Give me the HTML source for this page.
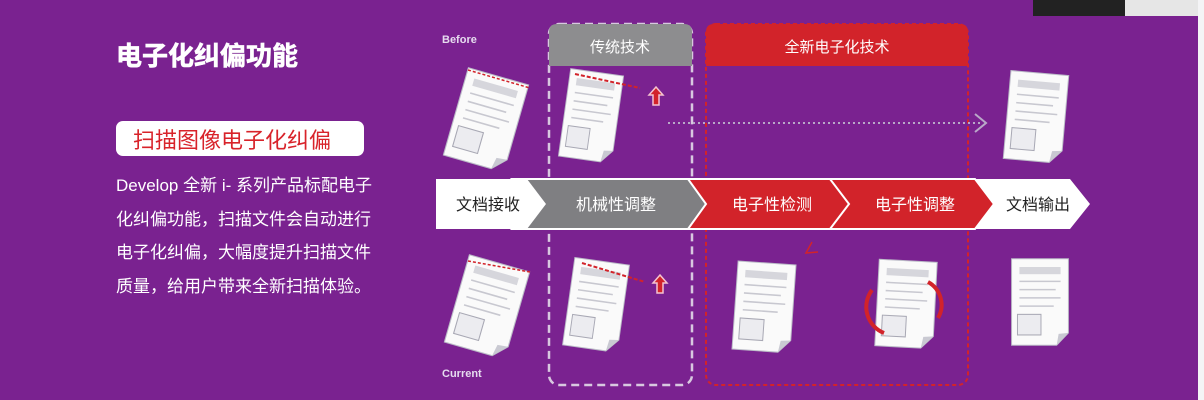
<!DOCTYPE html>
<html><head><meta charset="utf-8"><style>
html,body{margin:0;padding:0;width:1204px;height:400px;overflow:hidden;background:#7a2290}
text{font-family:"Liberation Sans","Noto Sans CJK SC",sans-serif}
</style></head><body>
<svg width="1204" height="400" viewBox="0 0 1204 400" xmlns="http://www.w3.org/2000/svg">
<defs>
<g id="doc">
<path d="M-29,-42 H29 V30 L17,42 H-29 Z" fill="#fafafa" stroke="#bcbcc8" stroke-width="1"/>
<path d="M29,30 L17,42 L19,31 Z" fill="#c9c9d2"/>
<rect x="-21" y="-34" width="42" height="7" fill="#d6d6dc"/>
<line x1="-21" y1="-20" x2="21" y2="-20" stroke="#c8c8d0" stroke-width="1.5"/>
<line x1="-21" y1="-12" x2="16" y2="-12" stroke="#c8c8d0" stroke-width="1.5"/>
<line x1="-21" y1="-4" x2="21" y2="-4" stroke="#c8c8d0" stroke-width="1.5"/>
<line x1="-21" y1="4" x2="14" y2="4" stroke="#c8c8d0" stroke-width="1.5"/>
<rect x="-23" y="12" width="24" height="20" fill="#ececf0" stroke="#a8a8b4" stroke-width="1"/>
</g>
<g id="up"><path d="M0,-10 L7,-2 H3 V8 H-3 V-2 H-7 Z" fill="#d2232a" stroke="#f4c4d0" stroke-width="1.5"/></g>
</defs>
<rect x="0" y="0" width="1204" height="400" fill="#7a2290"/>
<rect x="1198" y="0" width="6" height="400" fill="#f4f4f6"/>
<rect x="1033" y="0" width="92" height="16" fill="#222"/>
<rect x="1125" y="0" width="73" height="16" fill="#e6e6e6"/>

<text x="116" y="65" font-size="26" font-weight="bold" fill="#fff" stroke="#fff" stroke-width="0.6">电子化纠偏功能</text>
<rect x="116" y="121" width="248" height="35" rx="7" fill="#fff"/>
<text x="133" y="148" font-size="22" fill="#d8232a">扫描图像电子化纠偏</text>
<g font-size="17" fill="#fff">
<text x="116" y="191">Develop 全新 i- 系列产品标配电子</text>
<text x="116" y="225">化纠偏功能，扫描文件会自动进行</text>
<text x="116" y="258">电子化纠偏，大幅度提升扫描文件</text>
<text x="116" y="292">质量，给用户带来全新扫描体验。</text>
</g>
<text x="442" y="43" font-size="11" font-weight="bold" fill="#e6dcef">Before</text>
<text x="442" y="377" font-size="11" font-weight="bold" fill="#e6dcef">Current</text>

<rect x="549" y="24" width="143" height="361" rx="10" fill="none" stroke="#d8c8e0" stroke-width="2.5" stroke-dasharray="8,5"/>
<path d="M549,66 V32 Q549,24 557,24 H684 Q692,24 692,32 V66 Z" fill="#8d8d8f"/>
<text x="620" y="52" font-size="15" fill="#fff" text-anchor="middle">传统技术</text>
<rect x="706" y="24" width="262" height="361" rx="10" fill="none" stroke="#d2232a" stroke-width="2" stroke-dasharray="4,3"/>
<path d="M706,66 V32 Q706,24 714,24 H960 Q968,24 968,32 V66 Z" fill="#d2232a"/>
<text x="837" y="52" font-size="15" fill="#fff" text-anchor="middle">全新电子化技术</text>

<line x1="668" y1="123" x2="982" y2="123" stroke="#b9a8c8" stroke-width="2" stroke-dasharray="2,3"/>
<path d="M975,114 L986,123 L975,132" fill="none" stroke="#b9a8c8" stroke-width="2"/>

<path d="M970,179 H1070 L1090,204 L1070,229 H970 L988,204 Z" fill="#fff"/>
<path d="M828,179 H975 L994,204 L975,229 H828 L846,204 Z" fill="#d2232a" stroke="#fff" stroke-width="2"/>
<path d="M686,179 H830 L849,204 L830,229 H686 L704,204 Z" fill="#d2232a" stroke="#fff" stroke-width="2"/>
<path d="M512,179 H688 L706,204 L688,229 H512 L530,204 Z" fill="#7f7f82" stroke="#fff" stroke-width="2"/>
<path d="M436,179 H527 L546,204 L527,229 H436 Z" fill="#fff"/>
<g font-size="16" text-anchor="middle">
<text x="488" y="210" fill="#222">文档接收</text>
<text x="616" y="210" fill="#fff">机械性调整</text>
<text x="772" y="210" fill="#fff">电子性检测</text>
<text x="915" y="210" fill="#fff">电子性调整</text>
<text x="1038" y="210" fill="#222">文档输出</text>
</g>

<use href="#doc" transform="translate(486,120) rotate(16) scale(1.08)"/>
<line x1="468" y1="70" x2="530" y2="88" stroke="#d2232a" stroke-width="1.5" stroke-dasharray="3,2"/>
<use href="#doc" transform="translate(591,116) rotate(8) scale(0.92,1.05)"/>
<line x1="575" y1="74" x2="640" y2="88" stroke="#d2232a" stroke-width="2" stroke-dasharray="4,2"/>
<use href="#up" transform="translate(656,97)"/>
<use href="#doc" transform="translate(1036,117) rotate(5) scale(1,1.05)"/>

<use href="#doc" transform="translate(487,307) rotate(16) scale(1.08)"/>
<line x1="468" y1="261" x2="530" y2="272" stroke="#d2232a" stroke-width="1.5" stroke-dasharray="3,2"/>
<use href="#doc" transform="translate(596,305) rotate(8) scale(0.95,1.05)"/>
<line x1="582" y1="263" x2="645" y2="282" stroke="#d2232a" stroke-width="2" stroke-dasharray="4,2"/>
<use href="#up" transform="translate(660,285)"/>
<use href="#doc" transform="translate(764,307) rotate(4) scale(1,1.05)"/>
<path d="M812,242 L806,253 L818,252" fill="none" stroke="#d2232a" stroke-width="1.5"/>
<use href="#doc" transform="translate(906,304) rotate(3) scale(1,1.03)"/>
<path d="M928,282 A26,26 0 0 1 938,318" fill="none" stroke="#d2232a" stroke-width="4"/>
<path d="M872,290 A28,28 0 0 0 884,333" fill="none" stroke="#d2232a" stroke-width="4"/>
<use href="#doc" transform="translate(1040,302) scale(0.98,1.03)"/>
</svg>
</body></html>
